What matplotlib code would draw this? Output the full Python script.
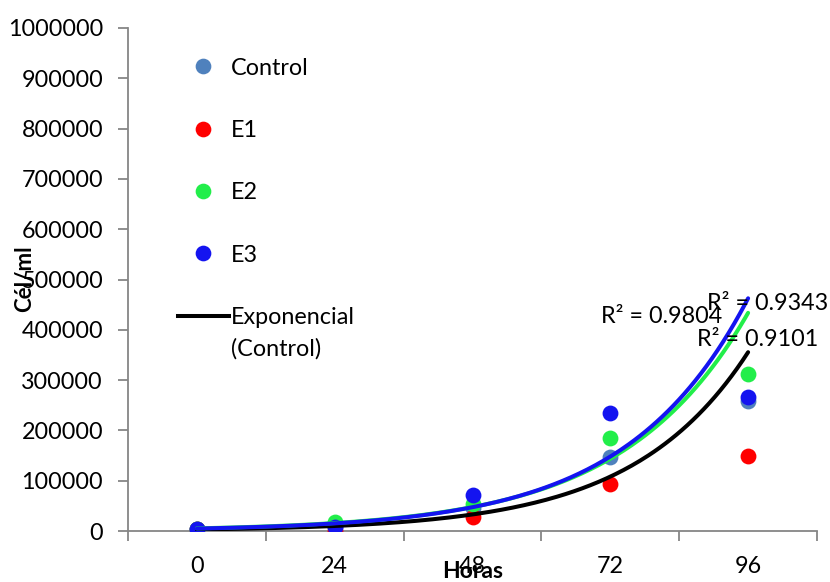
import numpy as np
import matplotlib
matplotlib.use("Agg")
import matplotlib.pyplot as plt
from matplotlib.lines import Line2D

plt.rcParams['font.family'] = ['Lato', 'DejaVu Sans']

# horas de cultivo
horas = [0, 24, 48, 72, 96]

# celulas por ml en cada muestreo
control = [4000, 7000, 46000, 147700, 259000]
e1 = [4000, 0, 28400, 93400, 149700]
e2 = [4000, 18500, 53700, 185500, 311500]
e3 = [4000, 8600, 71600, 234000, 266400]

# lineas de tendencia exponencial y = a*exp(b*x)
tend_control = (3040, 0.0496)
tend_e2 = (5240, 0.0460)
tend_e3 = (4840, 0.0475)

r2_labels = ["R² = 0.9804", "R² = 0.9343", "R² = 0.9101"]
r2_pos = [(80.9, 426000), (99.4, 453000), (97.7, 381700)]

c_control = "#4F81BD"
c_e1 = "#FF0000"
c_e2 = "#22EE4A"
c_e3 = "#1414F0"

fs = 16.8

fig = plt.figure(figsize=(8.3, 5.82), dpi=100)
ax = fig.add_axes([128/830, 1-531/582, (817-128)/830, (531-28)/582])

ms = 130
ax.scatter(horas, control, s=ms, color=c_control, zorder=3, linewidths=0)
ax.scatter(horas, e1, s=ms, color=c_e1, zorder=3, linewidths=0)
ax.scatter(horas, e2, s=ms, color=c_e2, zorder=3, linewidths=0)
ax.scatter(horas, e3, s=ms, color=c_e3, zorder=3, linewidths=0)

xs = np.linspace(0, 96, 200)
for (a, b), col, z in [(tend_control, "black", 4), (tend_e2, c_e2, 5), (tend_e3, c_e3, 6)]:
    ax.plot(xs, a*np.exp(b*xs), color=col, lw=2.9, zorder=z, solid_capstyle='round')

for lab, (x, y) in zip(r2_labels, r2_pos):
    ax.text(x, y, lab, ha='center', va='center', fontsize=fs, zorder=7)

ax.set_xlim(-12, 108)
ax.set_ylim(0, 1000000)
ax.set_yticks(np.arange(0, 1000001, 100000))
ax.set_yticklabels([str(v) for v in range(0, 1000001, 100000)])
ax.set_xticks([-12, 12, 36, 60, 84, 108])
ax.set_xticklabels([])
ax.set_xticks(horas, minor=True)
ax.set_xticklabels([str(h) for h in horas], minor=True)

for s in ['top', 'right']:
    ax.spines[s].set_visible(False)
for s in ['left', 'bottom']:
    ax.spines[s].set_color('#868686')
    ax.spines[s].set_linewidth(1.3)
ax.tick_params(axis='y', which='major', length=7, width=1.3, color='#868686', labelsize=fs, pad=11)
ax.tick_params(axis='x', which='major', length=7, width=1.3, color='#868686')
ax.tick_params(axis='x', which='minor', length=0, labelsize=fs, pad=18)

fig.text(25/830, 1-279/582, "Cél/ml", rotation=90, ha='center', va='center', fontsize=16, fontweight='bold')
fig.text(473/830, 1-572/582, "Horas", ha='center', va='center', fontsize=16.5, fontweight='bold')

handles = [
    Line2D([], [], ls='none', marker='o', ms=11.3, color=c_control, mew=0),
    Line2D([], [], ls='none', marker='o', ms=11.3, color=c_e1, mew=0),
    Line2D([], [], ls='none', marker='o', ms=11.3, color=c_e2, mew=0),
    Line2D([], [], ls='none', marker='o', ms=11.3, color=c_e3, mew=0),
    Line2D([], [], color='black', lw=2.9),
]
labels = ["Control", "E1", "E2", "E3", "Exponencial"]
ax.legend(handles, labels, loc='upper left', bbox_to_anchor=(166/830, 1-46/582),
          bbox_transform=fig.transFigure, frameon=False, fontsize=fs,
          labelspacing=1.77, handlelength=2.2, handletextpad=0.1, borderpad=0)
fig.text(231/830, 1-349/582, "(Control)", ha='left', va='center', fontsize=fs)

fig.savefig("out.png", dpi=100)
